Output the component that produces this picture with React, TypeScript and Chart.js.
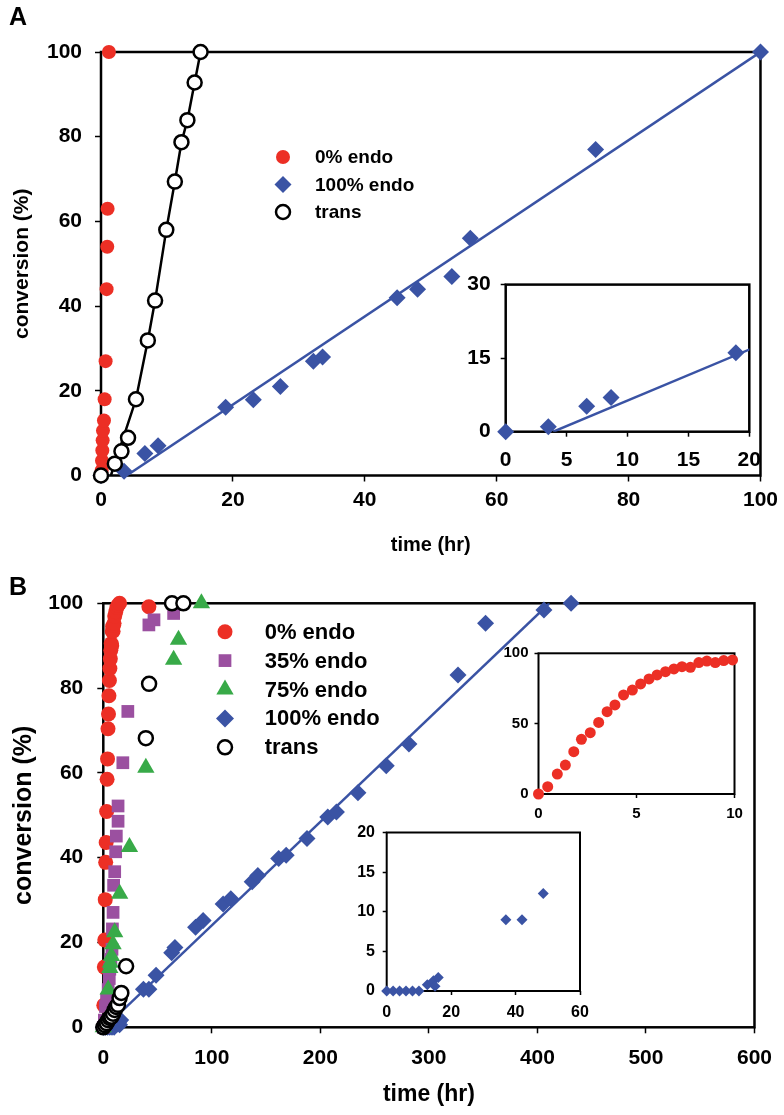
import React, { useEffect, useRef } from 'react';
import { Chart, registerables } from 'chart.js';
import { drawPoint } from 'chart.js/helpers';

Chart.register(...registerables);

const FONT = '"Liberation Sans", Arial, Helvetica, sans-serif';
const RED = '#EC2F25';
const BLUE = '#3A53A4';
const PURPLE = '#9B50A0';
const GREEN = '#38AA48';

// ---------- Panel A data ----------
const aEndo0X = [0.1, 0.15, 0.2, 0.25, 0.3, 0.45, 0.55, 0.7, 0.85, 0.95, 1.0, 1.2];
const aEndo0Y = [1.2, 3.5, 5.9, 8.3, 10.6, 13, 18, 27, 44, 54, 63, 100];
const aEndo100X = [0, 3.5, 6.65, 8.65, 18.9, 23.1, 27.2, 32.2, 33.6, 44.9, 48, 53.2, 56, 75, 100];
const aEndo100Y = [0, 1, 5.2, 7, 16.1, 17.9, 21, 27, 28, 42, 44, 47, 56, 77, 100];
const aTransX = [0, 2.1, 3.1, 4.1, 5.3, 7.1, 8.2, 9.9, 11.2, 12.2, 13.1, 14.2, 15.1];
const aTransY = [0, 2.8, 5.7, 8.9, 18, 31.9, 41.3, 58, 69.4, 78.7, 83.9, 92.8, 100];
const aTransLineX = [1.5, 5.3, 7.1, 8.2, 9.9, 11.2, 12.2, 13.1, 14.2, 15.1];
const aTransLineY = [0, 18, 31.9, 41.3, 58, 69.4, 78.7, 83.9, 92.8, 100];
const aFitX = [3.9, 100];
const aFitY = [0, 100];

// ---------- Panel B data ----------
const bEndo0X = [0, 0.47, 0.96, 1.37, 1.8, 2.19, 2.64, 3.07, 3.5, 3.9, 4.34, 4.79, 5.21, 5.64, 6.05, 6.48, 6.91, 7.32, 7.75, 8.18, 8.59, 9.02, 9.45, 9.9, 10.5, 11.5, 12.5, 13.5, 15, 42];
const bEndo0Y = [0, 5.2, 14.2, 20.6, 30.1, 38.9, 43.6, 50.9, 58.5, 63.3, 70.4, 73.9, 78.2, 81.8, 84.6, 86.9, 88.9, 90.5, 90, 93.4, 94.5, 93.4, 94.8, 95.3, 97, 98, 99, 99.5, 100, 99.2];
const bEndo35X = [0, 1, 2, 3, 4.5, 5.5, 6, 7, 8, 8.4, 9, 9.5, 10.5, 11.4, 12, 13.6, 13.6, 18, 22.6, 42, 46.7, 64.8];
const bEndo35Y = [0, 1.7, 4.9, 6.5, 8.9, 11.5, 13.7, 16, 18.4, 23.2, 27.1, 33.5, 36.7, 41.4, 45.1, 48.6, 52.2, 62.4, 74.5, 94.9, 96.1, 97.6];
const bEndo75X = [0, 4.5, 6, 6.5, 7.5, 9, 10.5, 15.1, 24.1, 39.2, 64.8, 69.3, 90.4];
const bEndo75Y = [0, 8.9, 14, 15.2, 16.8, 19.6, 22.4, 31.5, 42.5, 61.2, 86.7, 91.4, 100];
const bEndo100X = [0, 2, 4, 6, 8, 10, 12.6, 14.5, 15, 16, 37, 42, 48.6, 63, 66, 85, 92, 110.4, 117.5, 137.2, 142.4, 161.6, 168.5, 187.7, 206.8, 214.8, 234.6, 260.7, 281.6, 326.8, 352.2, 406, 431];
const bEndo100Y = [0, 0, 0, 0, 0, 0, 0.8, 1.3, 0.6, 1.7, 9, 9, 12.3, 17.6, 18.8, 23.6, 25.2, 29.1, 30.3, 34.3, 35.8, 39.8, 40.6, 44.5, 49.6, 50.8, 55.3, 61.7, 66.8, 83.1, 95.3, 98.4, 100];
const bTransX = [0, 1.5, 3, 4.5, 6, 7.5, 9, 10.5, 12, 13.5, 15, 16.6, 21, 39.2, 42.2, 63.3, 73.8];
const bTransY = [0, 0.5, 1, 1.7, 2.2, 2.5, 3.2, 4.1, 4.8, 5.3, 6.9, 8.1, 14.4, 68.2, 81, 100, 100];
const bFitX = [1.5, 411];
const bFitY = [0, 100];

const pts = (xs: number[], ys: number[], filter?: (x: number, y: number) => boolean) =>
  xs.map((x, i) => ({ x, y: ys[i] })).filter((p) => (filter ? filter(p.x, p.y) : true));

// ---------- plugins ----------
const framePlugin: any = {
  id: 'frame',
  beforeDraw(chart: any, _a: any, opts: any) {
    const { ctx, chartArea: a } = chart;
    if (opts.fill) {
      ctx.save();
      ctx.fillStyle = '#fff';
      ctx.fillRect(a.left, a.top, a.right - a.left, a.bottom - a.top);
      ctx.restore();
    }
  },
  beforeDatasetsDraw(chart: any, _a: any, opts: any) {
    const { ctx, chartArea: a } = chart;
    ctx.save();
    ctx.strokeStyle = '#000';
    ctx.lineWidth = opts.width || 2.5;
    ctx.strokeRect(a.left, a.top, a.right - a.left, a.bottom - a.top);
    ctx.restore();
  },
  afterDraw(chart: any, _a: any, opts: any) {
    const { ctx, chartArea: a } = chart;
    const lg = opts.legend;
    if (lg) {
      const items = chart.data.datasets.filter((d: any) => d.inLegend);
      items.forEach((d: any, i: number) => {
        const y = a.top + lg.dy + i * lg.row;
        const x = a.left + lg.dx;
        ctx.save();
        ctx.fillStyle = d.pointBackgroundColor;
        ctx.strokeStyle = d.pointBorderColor;
        ctx.lineWidth = d.pointBorderWidth;
        drawPoint(ctx, { pointStyle: d.pointStyle, radius: d.legendRadius, rotation: 0, borderWidth: d.pointBorderWidth } as any, x, y);
        ctx.fillStyle = '#000';
        ctx.font = `bold ${lg.size}px ${FONT}`;
        ctx.textBaseline = 'middle';
        ctx.textAlign = 'left';
        ctx.fillText(d.label, a.left + lg.tx, y + 1);
        ctx.restore();
      });
    }
    if (opts.panel) {
      ctx.save();
      ctx.fillStyle = '#000';
      ctx.font = `bold ${opts.panel.size}px ${FONT}`;
      ctx.textBaseline = 'alphabetic';
      ctx.textAlign = 'left';
      ctx.fillText(opts.panel.text, opts.panel.x, opts.panel.y);
      ctx.restore();
    }
  },
};

// ---------- scale builders ----------
function xScale(o: any) {
  return {
    type: 'linear',
    position: 'bottom',
    min: o.min,
    max: o.max,
    ticks: { stepSize: o.step, color: '#000', font: { size: o.size, weight: 'bold', family: FONT }, padding: o.pad, maxRotation: 0, autoSkip: false },
    grid: { display: true, drawOnChartArea: false, drawTicks: true, tickLength: o.tl, tickWidth: 1.5, tickColor: '#000', color: '#000' },
    border: { display: false },
    title: o.title
      ? { display: true, text: o.title.text, color: '#000', font: { size: o.title.size, weight: 'bold', family: FONT }, padding: { top: 0, bottom: o.title.pad } }
      : { display: false },
    afterFit: (s: any) => {
      s.height = o.height;
    },
  };
}
function yScale(o: any) {
  return {
    type: 'linear',
    position: 'left',
    min: o.min,
    max: o.max,
    ticks: { stepSize: o.step, color: '#000', font: { size: o.size, weight: 'bold', family: FONT }, padding: o.pad, autoSkip: false },
    grid: { display: true, drawOnChartArea: false, drawTicks: true, tickLength: o.tl, tickWidth: 1.5, tickColor: '#000', color: '#000' },
    border: { display: false },
    title: o.title
      ? { display: true, text: o.title.text, color: '#000', font: { size: o.title.size, weight: 'bold', family: FONT }, padding: { top: o.title.pad, bottom: 0 } }
      : { display: false },
    afterFit: (s: any) => {
      s.width = o.width;
    },
  };
}

function baseOptions(padTop: number, padRight: number, x: any, y: any, frame: any) {
  return {
    responsive: false,
    animation: false,
    devicePixelRatio: 1,
    events: [],
    layout: { padding: { top: padTop, right: padRight, left: 0, bottom: 0 } },
    scales: { x, y },
    plugins: { legend: { display: false }, tooltip: { enabled: false }, frame },
  };
}

const redSet = (data: any[], r: number, lr: number) => ({
  label: '0% endo', data, inLegend: true, legendRadius: lr, order: 3, clip: false,
  pointStyle: 'circle', pointRadius: r, pointBackgroundColor: RED, pointBorderColor: RED, pointBorderWidth: 0,
  backgroundColor: RED, borderColor: RED, showLine: false,
});
const purpleSet = (data: any[], r: number, lr: number) => ({
  label: '35% endo', data, inLegend: true, legendRadius: lr, order: 2, clip: false,
  pointStyle: 'rect', pointRadius: r, pointBackgroundColor: PURPLE, pointBorderColor: PURPLE, pointBorderWidth: 0,
  backgroundColor: PURPLE, borderColor: PURPLE, showLine: false,
});
const greenSet = (data: any[], r: number, lr: number) => ({
  label: '75% endo', data, inLegend: true, legendRadius: lr, order: 1, clip: false,
  pointStyle: 'triangle', pointRadius: r, pointBackgroundColor: GREEN, pointBorderColor: GREEN, pointBorderWidth: 0,
  backgroundColor: GREEN, borderColor: GREEN, showLine: false,
});
const blueSet = (data: any[], r: number, lr: number) => ({
  label: '100% endo', data, inLegend: true, legendRadius: lr, order: 4, clip: false,
  pointStyle: 'rectRot', pointRadius: r, pointBackgroundColor: BLUE, pointBorderColor: BLUE, pointBorderWidth: 0,
  backgroundColor: BLUE, borderColor: BLUE, showLine: false,
});
const transSet = (data: any[], r: number, lr: number) => ({
  label: 'trans', data, inLegend: true, legendRadius: lr, order: 0, clip: false,
  pointStyle: 'circle', pointRadius: r, pointBackgroundColor: '#fff', pointBorderColor: '#000', pointBorderWidth: 2.5,
  backgroundColor: '#fff', borderColor: '#000', showLine: false,
});
const lineSet = (data: any[], color: string, width: number) => ({
  label: 'fit', data, inLegend: false, order: 5, showLine: true, pointRadius: 0,
  borderColor: color, borderWidth: width, backgroundColor: color, fill: false, tension: 0,
});

// ---------- configs ----------
const configAMain = () => ({
  type: 'scatter',
  data: {
    datasets: [
      redSet(pts(aEndo0X, aEndo0Y), 7, 7),
      blueSet(pts(aEndo100X, aEndo100Y), 8.5, 8.5),
      transSet(pts(aTransX, aTransY), 7, 7),
      lineSet(pts(aFitX, aFitY), BLUE, 2.5),
      lineSet(pts(aTransLineX, aTransLineY), '#000', 2.5),
    ],
  },
  options: {
    ...baseOptions(
      52, 22,
      xScale({ min: 0, max: 100, step: 20, size: 21, pad: 6, tl: 6, height: 89.5, title: { text: 'time (hr)', size: 20, pad: 8 } }),
      yScale({ min: 0, max: 100, step: 20, size: 21, pad: 13, tl: 6, width: 101, title: { text: 'conversion (%)', size: 21, pad: 9.4 } }),
      { width: 2.5, legend: { dx: 182, dy: 105, row: 27.5, tx: 214, size: 19 }, panel: { text: 'A', x: 9, y: 25, size: 25 } },
    ),
  },
  plugins: [framePlugin],
});

const configAInset = () => ({
  type: 'scatter',
  data: {
    datasets: [
      blueSet(pts(aEndo100X, aEndo100Y, (x) => x <= 20), 8.5, 8.5),
      lineSet(pts(aFitX, aFitY), BLUE, 2.5),
    ],
  },
  options: baseOptions(
    20.3, 34.7,
    xScale({ min: 0, max: 20, step: 5, size: 21, pad: 10.7, tl: 5, height: 48.3 }),
    yScale({ min: 0, max: 30, step: 15, size: 21, pad: 10, tl: 5, width: 65.7 }),
    { width: 2.5, fill: true },
  ),
  plugins: [framePlugin],
});

const configBMain = () => ({
  type: 'scatter',
  data: {
    datasets: [
      redSet(pts(bEndo0X, bEndo0Y), 7.5, 7.5),
      purpleSet(pts(bEndo35X, bEndo35Y), 9, 9),
      greenSet(pts(bEndo75X, bEndo75Y), 10, 10),
      blueSet(pts(bEndo100X, bEndo100Y), 8.5, 9),
      transSet(pts(bTransX, bTransY), 7, 7),
      lineSet(pts(bFitX, bFitY), BLUE, 2.5),
    ],
  },
  options: baseOptions(
    38.3, 21,
    xScale({ min: 0, max: 600, step: 100, size: 21, pad: 12, tl: 6, height: 87.7, title: { text: 'time (hr)', size: 23, pad: 6.2 } }),
    yScale({ min: 0, max: 100, step: 20, size: 21, pad: 14, tl: 6, width: 103.3, title: { text: 'conversion (%)', size: 25, pad: 9 } }),
    { width: 2.5, legend: { dx: 121.7, dy: 28.4, row: 28.9, tx: 161.4, size: 22 }, panel: { text: 'B', x: 9, y: 30, size: 25 } },
  ),
  plugins: [framePlugin],
});

const configBInset1 = () => ({
  type: 'scatter',
  data: { datasets: [redSet(pts(bEndo0X, bEndo0Y, (x) => x <= 10), 5.5, 5.5)] },
  options: baseOptions(
    23.3, 49.5,
    xScale({ min: 0, max: 10, step: 5, size: 15, pad: 7, tl: 4, height: 41 }),
    yScale({ min: 0, max: 100, step: 50, size: 15, pad: 6, tl: 4, width: 68.5 }),
    { width: 2, fill: true },
  ),
  plugins: [framePlugin],
});

const configBInset2 = () => ({
  type: 'scatter',
  data: { datasets: [blueSet(pts(bEndo100X, bEndo100Y, (x, y) => x <= 60 && y <= 20), 5.5, 5.5)] },
  options: baseOptions(
    22.5, 40,
    xScale({ min: 0, max: 60, step: 20, size: 16, pad: 8.4, tl: 4, height: 49 }),
    yScale({ min: 0, max: 20, step: 5, size: 16, pad: 7.7, tl: 4, width: 56.7 }),
    { width: 2, fill: true },
  ),
  plugins: [framePlugin],
});

function ChartCanvas(props: { left: number; top: number; width: number; height: number; make: () => any }) {
  const ref = useRef<HTMLCanvasElement | null>(null);
  useEffect(() => {
    if (!ref.current) return;
    const chart = new Chart(ref.current, props.make() as any);
    return () => chart.destroy();
  }, []);
  return (
    <canvas
      ref={ref}
      width={props.width}
      height={props.height}
      style={{ position: 'absolute', left: props.left, top: props.top, width: props.width, height: props.height }}
    />
  );
}

export default function App() {
  return (
    <div style={{ position: 'absolute', left: 0, top: 0, width: 784, height: 1115, background: '#fff', overflow: 'hidden' }}>
      <ChartCanvas left={0} top={0} width={784} height={565} make={configAMain} />
      <ChartCanvas left={440} top={262} width={344} height={218} make={configAInset} />
      <ChartCanvas left={0} top={565} width={784} height={550} make={configBMain} />
      <ChartCanvas left={470} top={630} width={314} height={205} make={configBInset1} />
      <ChartCanvas left={330} top={810} width={290} height={230} make={configBInset2} />
    </div>
  );
}
